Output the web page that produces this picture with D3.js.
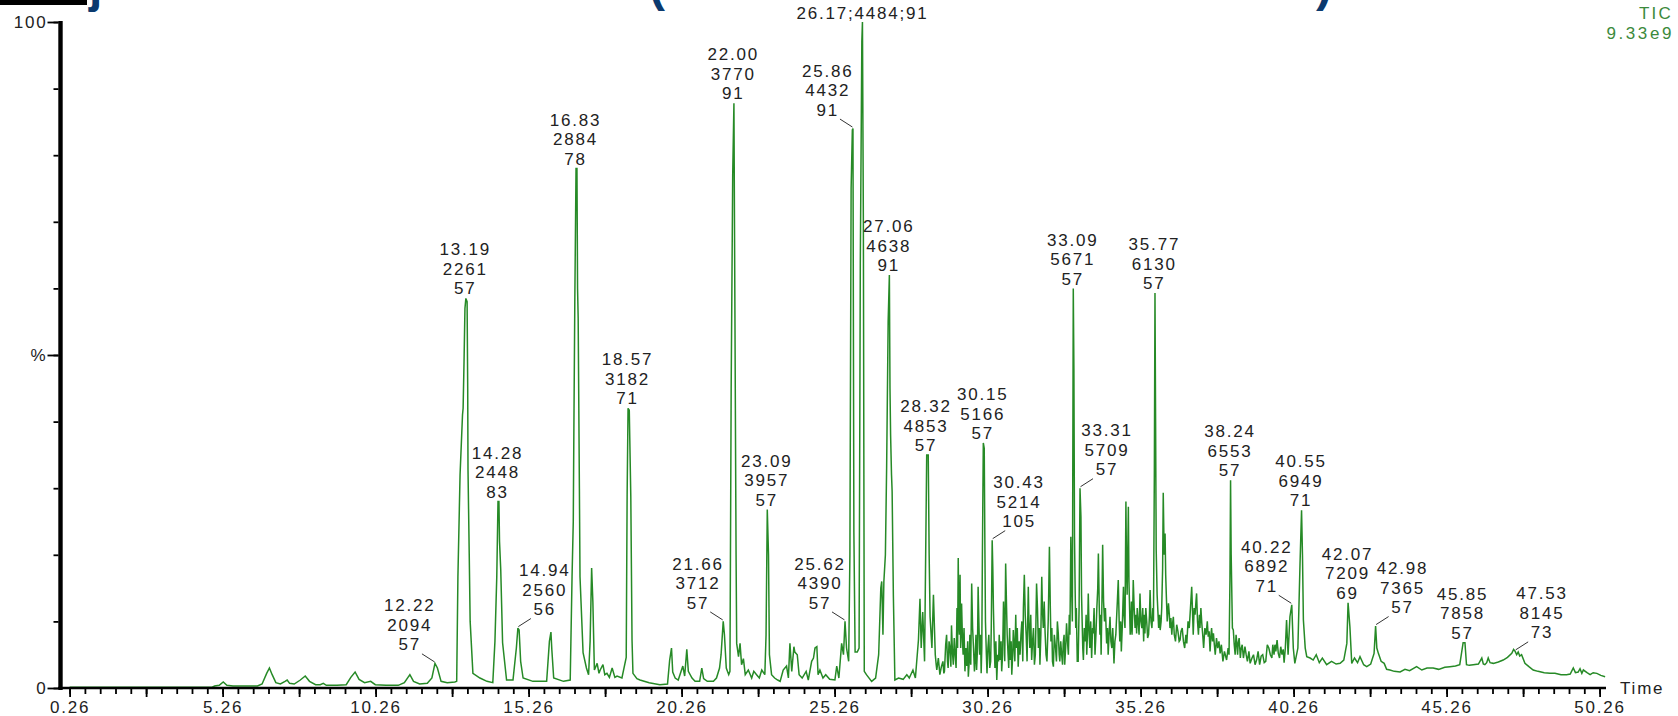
<!DOCTYPE html>
<html><head><meta charset="utf-8">
<script src="https://cdn.jsdelivr.net/npm/d3@7"></script>
<style>
html,body{margin:0;padding:0;background:#fff;}
svg{display:block;}
text{font-family:"Liberation Sans",Arial,sans-serif;}
</style></head><body>
<svg id="chart" width="1678" height="716"></svg>
<script>
// Total ion chromatogram: [retention time (min), relative abundance (%)]
const tic = [
[0.26,0.1],[4.90,0.1],[5.00,0.3],[5.15,0.4],[5.28,0.9],[5.40,0.4],[5.60,0.3],[6.40,0.3],[6.55,0.6],[6.70,2.2],
[6.79,3.0],[6.88,2.0],[7.00,0.8],[7.15,0.6],[7.30,1.0],[7.37,1.2],[7.45,0.7],[7.60,0.6],[7.80,1.2],[7.96,1.8],
[8.10,1.0],[8.30,0.5],[8.45,0.5],[8.55,0.7],[8.65,0.4],[9.00,0.4],[9.30,0.5],[9.45,1.6],[9.59,2.4],[9.72,1.3],
[9.90,0.8],[10.10,1.0],[10.25,0.5],[10.60,0.4],[11.00,0.4],[11.20,0.8],[11.38,2.0],[11.50,1.0],[11.70,0.6],[11.95,0.7],
[12.10,1.5],[12.20,3.7],[12.28,3.0],[12.40,1.0],[12.60,0.8],[12.85,0.9],[12.91,1.0],[12.95,16.7],[13.02,32],[13.10,41],
[13.12,42],[13.15,49],[13.18,57],[13.21,58.5],[13.25,58],[13.27,45],[13.28,32.7],[13.32,20],[13.35,10],[13.44,2.2],
[13.67,1.5],[13.90,1.0],[14.09,0.8],[14.16,7],[14.22,16.7],[14.26,28],[14.29,28],[14.31,22],[14.35,17.7],[14.41,6.8],
[14.54,1.2],[14.75,1.2],[14.86,6],[14.91,9],[14.95,8.7],[15.00,4],[15.08,1.5],[15.40,1.0],[15.85,1.0],[15.94,7],
[15.99,8.4],[16.02,5.7],[16.08,1.5],[16.40,1.0],[16.62,1.2],[16.68,16.7],[16.72,25],[16.74,39],[16.77,58],[16.81,78],
[16.84,78],[16.86,60],[16.88,55.5],[16.92,30],[16.94,16.7],[17.04,5.3],[17.15,3],[17.22,2.0],[17.27,7],[17.32,18],
[17.36,13],[17.41,2.7],[17.50,3.7],[17.56,2.2],[17.60,2.7],[17.69,3.5],[17.75,2.0],[17.82,2.2],[17.90,1.6],[17.99,3.0],
[18.08,1.6],[18.15,1.8],[18.31,1.5],[18.45,4.6],[18.48,29],[18.51,42],[18.55,41.7],[18.60,28.7],[18.64,7.2],[18.67,2.2],
[18.80,1.4],[18.90,1.2],[19.20,0.8],[19.55,0.5],[19.80,0.6],[19.87,4.2],[19.93,6],[19.97,2.4],[20.05,1.5],[20.15,1.2],
[20.30,3.3],[20.36,1.8],[20.43,5.8],[20.48,2.5],[20.60,1.5],[20.70,1.0],[20.85,1.0],[20.92,3.0],[20.98,1.4],[21.10,1.0],
[21.30,1.0],[21.40,1.5],[21.50,3.0],[21.55,5],[21.62,10],[21.66,8],[21.72,3],[21.80,2],[21.84,2.5],[21.88,45],
[21.93,77],[21.97,87.8],[22.00,58.7],[22.04,20],[22.06,6.7],[22.12,4.7],[22.17,6.7],[22.22,3.5],[22.28,4.4],[22.34,2.0],
[22.44,2.7],[22.55,1.5],[22.62,2.5],[22.71,2.0],[22.80,1.5],[22.88,2.7],[22.98,2.0],[23.02,8],[23.06,26.8],[23.10,20],
[23.13,5],[23.20,2.0],[23.30,1.5],[23.40,1.2],[23.48,1.0],[23.58,2.7],[23.69,3.3],[23.75,1.5],[23.80,6.7],[23.86,2.5],
[23.93,6.2],[23.96,5.4],[24.04,5.0],[24.10,2.0],[24.20,1.5],[24.33,2.5],[24.40,1.2],[24.51,4.0],[24.57,4.5],[24.62,6.0],
[24.68,6.2],[24.72,2.0],[24.78,2.7],[24.88,1.5],[24.97,2.0],[25.10,1.3],[25.27,1.2],[25.33,3.3],[25.40,1.5],[25.49,6.7],
[25.55,5],[25.60,10],[25.65,6],[25.72,4],[25.76,20],[25.80,75],[25.84,83.8],[25.86,84],[25.89,23.4],[25.93,5.4],
[26.00,5.4],[26.06,6],[26.10,63.7],[26.15,97],[26.17,100],[26.20,70],[26.23,2.5],[26.30,2.0],[26.47,1.0],[26.60,1.5],
[26.70,5],[26.77,15],[26.80,16],[26.84,8],[26.87,16],[26.92,20],[26.96,33],[27.01,55],[27.05,62],[27.07,45],
[27.09,38],[27.12,32],[27.14,29.5],[27.18,14],[27.23,1.2],[27.35,1.5],[27.50,1.3],[27.62,2.0],[27.70,1.5],[27.82,2.7],
[27.90,1.5],[28.00,7.2],[28.05,13.4],[28.09,6],[28.14,11.4],[28.20,4],[28.27,35],[28.32,35],[28.35,20],[28.38,10.7],
[28.44,6],[28.49,14],[28.55,5],[28.58,3.5],[28.60,2.7],[28.65,4.5],[28.70,2.0],[28.75,3.2],[28.80,4],[28.83,2.2],
[28.85,2.5],[28.89,6.5],[28.92,8],[28.95,4],[28.97,3],[29.00,7],[29.03,6],[29.06,3.2],[29.08,9.4],[29.11,5.5],
[29.14,3.5],[29.17,7.5],[29.20,5],[29.23,3],[29.26,12],[29.28,6],[29.30,19.5],[29.32,10],[29.34,8],[29.36,17],
[29.38,6],[29.41,12.7],[29.44,7],[29.46,5],[29.49,9],[29.52,2.5],[29.55,6],[29.58,3.3],[29.61,7],[29.63,1.7],
[29.66,4],[29.68,8],[29.71,3.5],[29.74,15.7],[29.77,9],[29.80,6],[29.83,2.5],[29.85,4],[29.88,8],[29.90,2.7],
[29.93,6],[29.95,15.2],[29.98,9],[30.00,5],[30.03,8],[30.05,2.2],[30.07,6],[30.09,20],[30.12,36.8],[30.15,36],
[30.17,22],[30.19,10],[30.22,5],[30.24,2.2],[30.27,6],[30.30,8],[30.33,3],[30.36,4],[30.38,9],[30.41,22.2],
[30.43,18],[30.45,12],[30.48,6],[30.50,3],[30.53,7],[30.56,1.2],[30.59,5],[30.62,4],[30.64,8],[30.67,4.2],
[30.70,7],[30.72,2.5],[30.75,5],[30.78,13],[30.80,10],[30.82,4],[30.85,18.7],[30.88,12],[30.90,8],[30.93,5],
[30.95,3],[30.98,9],[31.00,4.2],[31.03,7],[31.05,2.0],[31.08,5],[31.10,8.7],[31.13,6],[31.15,4],[31.18,11],
[31.20,6],[31.23,9],[31.26,3.2],[31.29,7],[31.32,5],[31.35,8],[31.38,10],[31.41,4],[31.43,12],[31.46,17],
[31.49,11],[31.52,8],[31.55,4],[31.59,15.2],[31.61,10],[31.64,6],[31.67,11],[31.70,4.2],[31.73,7],[31.76,9],
[31.79,3.5],[31.82,5],[31.84,10],[31.86,15.7],[31.89,12],[31.92,6],[31.95,9],[31.97,3.5],[32.00,8],[32.03,16.7],
[32.05,12],[32.08,9],[32.11,13],[32.14,8.2],[32.17,5],[32.20,4],[32.22,7],[32.24,10],[32.26,15],[32.28,21.2],
[32.31,12],[32.33,7],[32.36,9],[32.38,4],[32.41,3.2],[32.44,8],[32.48,6],[32.51,4],[32.54,10],[32.57,8.2],
[32.60,5],[32.62,4],[32.65,7],[32.68,5],[32.71,3.5],[32.73,6.7],[32.76,8],[32.78,3.5],[32.81,6],[32.84,9.7],
[32.87,7],[32.90,5],[32.93,11],[32.95,8],[32.98,22.7],[33.01,14],[33.03,10],[33.06,60],[33.08,48],[33.10,22.7],
[33.12,15],[33.14,9],[33.16,12],[33.19,4],[33.22,4],[33.25,12],[33.28,30],[33.31,25.7],[33.33,14],[33.35,10],
[33.37,6],[33.39,4.2],[33.42,9],[33.45,7],[33.48,11],[33.50,5],[33.53,9],[33.55,14.2],[33.58,8],[33.60,6],
[33.63,10],[33.66,4.5],[33.69,9],[33.71,8.2],[33.74,12],[33.77,5],[33.80,8],[33.83,12],[33.86,15],[33.88,20.2],
[33.91,12],[33.93,8],[33.95,11],[33.97,5],[34.00,14],[34.02,21.5],[34.05,13],[34.08,10],[34.11,12],[34.15,6.7],
[34.18,9],[34.20,5],[34.23,8],[34.26,10.7],[34.29,7],[34.32,6],[34.35,9],[34.39,3.7],[34.42,7],[34.45,8],
[34.48,11],[34.50,13],[34.53,16.2],[34.56,10],[34.58,7],[34.61,10],[34.63,5.5],[34.66,9],[34.70,15.2],[34.72,11],
[34.75,9],[34.78,28],[34.80,18],[34.82,14],[34.84,20],[34.86,27.2],[34.88,16],[34.90,12],[34.92,8],[34.94,9.2],
[34.96,13],[34.98,8],[35.00,11],[35.02,16.2],[35.05,12],[35.08,9],[35.11,11],[35.13,8.2],[35.15,12],[35.18,10],
[35.21,8],[35.24,14.2],[35.27,10],[35.30,9],[35.33,12],[35.36,7],[35.38,11],[35.40,8.2],[35.43,12],[35.46,10],
[35.49,7.5],[35.52,8],[35.55,11],[35.57,14.7],[35.60,10],[35.63,9],[35.66,12],[35.68,10],[35.71,32.7],[35.73,59.3],
[35.75,40],[35.77,20.7],[35.80,14],[35.82,12],[35.85,9],[35.88,11],[35.90,8.7],[35.93,10],[35.95,12],[35.98,18],
[36.00,29.3],[36.03,20],[36.06,23.2],[36.08,17],[36.10,14],[36.13,10],[36.17,12.7],[36.20,11],[36.22,9],[36.25,10.5],
[36.28,8],[36.30,9.5],[36.33,10.7],[36.36,8],[36.40,7],[36.44,9.5],[36.48,8.5],[36.52,7],[36.55,7.2],[36.58,8.5],
[36.62,9],[36.66,7],[36.70,6],[36.74,8],[36.77,6.7],[36.81,10],[36.85,9],[36.89,12],[36.93,15.2],[36.96,11],
[36.98,8],[37.01,12],[37.04,11],[37.07,13],[37.09,14.2],[37.12,10],[37.15,8],[37.18,11],[37.20,9],[37.23,12],
[37.26,9.7],[37.29,8],[37.32,6],[37.36,9],[37.40,8],[37.44,10],[37.47,7.7],[37.50,8.5],[37.53,5.5],[37.56,8],
[37.58,9],[37.61,7],[37.64,8.2],[37.67,6.5],[37.70,5],[37.74,7.5],[37.78,6],[37.82,7],[37.86,5.2],[37.90,6.5],
[37.95,4],[38.00,5.5],[38.07,4.2],[38.12,6],[38.15,5],[38.18,16.2],[38.20,31.2],[38.22,20],[38.26,9],[38.29,8.7],
[38.32,6.5],[38.35,5],[38.38,8],[38.40,7],[38.43,5],[38.45,6.7],[38.48,7.5],[38.52,4.5],[38.55,6],[38.58,6.5],
[38.62,4.5],[38.67,6.2],[38.71,5],[38.75,4],[38.80,5.5],[38.84,3.7],[38.90,4.5],[38.95,5],[39.00,3.5],[39.05,4.2],
[39.10,5.5],[39.15,3.5],[39.20,4.8],[39.25,5],[39.30,3.8],[39.35,4],[39.40,6.5],[39.45,6],[39.50,5],[39.55,4.5],
[39.58,6.5],[39.62,5],[39.65,6.5],[39.68,5.5],[39.72,7.2],[39.76,5.2],[39.80,4.5],[39.84,6.2],[39.88,5],[39.92,5.8],
[39.95,3.8],[39.99,6],[40.03,10.2],[40.08,5],[40.14,10.7],[40.20,12.5],[40.25,6],[40.30,3.7],[40.40,6],[40.47,18.7],
[40.52,26.7],[40.55,20],[40.58,10.2],[40.64,6],[40.69,4.7],[40.80,4.5],[40.90,4.2],[41.00,5],[41.10,3.8],[41.20,4.5],
[41.34,3.5],[41.50,4],[41.65,3.6],[41.78,3.7],[41.90,4.2],[42.00,6.7],[42.04,12.8],[42.10,9.2],[42.16,3.7],[42.25,4.5],
[42.35,3.8],[42.43,4.7],[42.55,3.5],[42.65,3.2],[42.78,3.6],[42.89,5.2],[42.94,9.3],[42.98,6],[43.03,5.2],[43.12,4],
[43.22,3.7],[43.30,2.8],[43.41,2.7],[43.55,2.5],[43.74,2.4],[43.90,2.8],[44.05,2.6],[44.28,3.2],[44.45,2.7],[44.62,3.0],
[44.82,3.0],[45.00,2.8],[45.20,3.1],[45.37,3.2],[45.55,3.3],[45.69,3.5],[45.80,6.8],[45.86,6.8],[45.91,3.5],[46.00,3.4],
[46.13,3.5],[46.30,3.6],[46.41,4.5],[46.46,3.6],[46.51,3.5],[46.57,3.8],[46.62,4.5],[46.68,3.8],[46.79,3.7],[46.95,3.9],
[47.11,4.2],[47.25,4.6],[47.39,5.2],[47.45,5.8],[47.50,5.5],[47.55,5.0],[47.60,5.4],[47.65,4.8],[47.71,5.0],[47.82,3.7],
[47.95,3.2],[48.09,2.7],[48.25,2.5],[48.45,2.3],[48.64,2.2],[48.80,2.2],[49.00,2.0],[49.18,2.0],[49.30,2.1],[49.40,3.0],
[49.47,2.3],[49.56,2.4],[49.62,2.9],[49.68,2.2],[49.73,2.7],[49.85,2.3],[49.95,2.0],[50.05,2.3],[50.17,2.2],[50.30,1.9],
[50.44,1.7]
];

// Peak annotations: retention time, scan number, base peak m/z
const peakRT   = [12.22,13.19,14.28,14.94,16.83,18.57,21.66,22.00,23.09,25.62,25.86,26.17,27.06,28.32,30.15,30.43,33.09,33.31,35.77,38.24,40.22,40.55,42.07,42.98,45.85,47.53];
const peakScan = [2094,2261,2448,2560,2884,3182,3712,3770,3957,4390,4432,4484,4638,4853,5166,5214,5671,5709,6130,6553,6892,6949,7209,7365,7858,8145];
const peakMz   = [57,57,83,56,78,71,57,91,57,57,91,91,91,57,57,105,57,57,57,57,71,71,69,57,57,73];

// X tick labels (min) and Y tick labels
const xTickLabels = ["0.26","5.26","10.26","15.26","20.26","25.26","30.26","35.26","40.26","45.26","50.26"];
const yTickValues = [0,50,100];
const yTickLabels = ["0","%","100"];
const traceName = "TIC";
const traceMax  = "9.33e9";

// ---- layout (not data) ----
// label placement per peak: 0 = above, -1 = left with leader, 1 = right with leader, 2 = single line
const labelSide = [-1,0,0,1,0,0,-1,0,0,-1,-1,2,0,0,0,1,0,1,0,0,-1,0,0,1,0,1];

const svg = d3.select("#chart");
const x = d3.scaleLinear().domain([0.26, 50.26]).range([69.6, 1599.6]);
const y = d3.scaleLinear().domain([0, 100]).range([688, 22]);

const ink = "#222";
const green = "#268a26";
const FS = 17, LS = 1.8;

// cut-off title fragments at the top edge
svg.append("rect").attr("x",0).attr("y",0).attr("width",87).attr("height",5).attr("fill","#000");
const titleG = svg.append("g").attr("fill","#0b3a6e").attr("font-weight","bold").attr("font-size",48);
titleG.append("text").attr("x",89).attr("y",1.5).text("j");
titleG.append("text").attr("x",649).attr("y",1).text("(");
titleG.append("text").attr("x",1316).attr("y",1).text(")");

// trace
const line = d3.line().x(d => x(d[0])).y(d => y(d[1]));
svg.append("path").datum(tic)
  .attr("d", line).attr("fill","none").attr("stroke",green)
  .attr("stroke-width",1.5).attr("stroke-linejoin","miter").attr("stroke-miterlimit",3);

// X axis
const minorX = d3.range(0, 101).map(i => 0.26 + i * 0.5);
const majorX = d3.range(0, 21).map(i => 0.26 + i * 2.5);
function styleAxis(g){
  g.select(".domain").remove();
  g.selectAll(".tick line").attr("stroke","#000").attr("stroke-width",1.8);
  g.selectAll("text").attr("font-size",FS).attr("fill",ink)
   .attr("font-family",'"Liberation Sans",Arial,sans-serif').style("letter-spacing",LS+"px");
}
svg.append("g").attr("transform","translate(0,689)")
  .call(d3.axisBottom(x).tickValues(minorX).tickSize(5).tickFormat("")).call(styleAxis);
svg.append("g").attr("transform","translate(0,689)")
  .call(d3.axisBottom(x).tickValues(majorX).tickSize(8).tickFormat("")).call(styleAxis);
svg.append("g").attr("transform","translate(0,689)")
  .call(d3.axisBottom(x).tickValues(xTickLabels.map(Number)).tickSize(0).tickPadding(12)
        .tickFormat((d,i) => xTickLabels[i])).call(styleAxis);

// Y axis
svg.append("g").attr("transform","translate(58.5,0)")
  .call(d3.axisLeft(y).tickValues(d3.range(0,101,10)).tickSize(5).tickFormat("")).call(styleAxis);
svg.append("g").attr("transform","translate(58.5,0)")
  .call(d3.axisLeft(y).tickValues(yTickValues).tickSize(11).tickPadding(0)
        .tickFormat((d,i) => yTickLabels[i])).call(styleAxis);

// axis lines
svg.append("line").attr("x1",58).attr("x2",1606).attr("y1",688).attr("y2",688)
  .attr("stroke","#000").attr("stroke-width",2.4);
svg.append("line").attr("x1",60.5).attr("x2",60.5).attr("y1",21).attr("y2",690)
  .attr("stroke","#000").attr("stroke-width",4.4);

svg.append("text").attr("x",1620).attr("y",694).attr("font-size",FS).attr("fill",ink)
  .style("letter-spacing",LS+"px").text("Time");

// legend (trace name and full-scale intensity)
svg.append("text").attr("x",1673).attr("y",18.5).attr("text-anchor","end").attr("font-size",FS)
  .attr("fill","#3b8a3b").style("letter-spacing","2.2px").text(traceName);
svg.append("text").attr("x",1674).attr("y",39).attr("text-anchor","end").attr("font-size",FS)
  .attr("fill","#3b8a3b").style("letter-spacing","2.6px").text(traceMax);

// peak labels
const lab = svg.append("g").attr("font-size",FS).attr("fill",ink).attr("text-anchor","middle")
  .style("letter-spacing",LS+"px");
const LH = 19.5, HALF = 6.1;
peakRT.forEach((rt, i) => {
  const near = tic.filter(d => Math.abs(d[0] - rt) <= 0.06);
  const top = near.reduce((a, b) => (b[1] > a[1] ? b : a), near[0]);
  const px = x(top[0]), py = y(top[1]);
  const s = labelSide[i];
  if (s === 2) {
    lab.append("text").attr("x", px).attr("y", py - 9.5 + HALF)
      .text(`${rt.toFixed(2)};${peakScan[i]};${peakMz[i]}`);
    return;
  }
  const cx = px + (s ? s * 26 : -1.5) + LS / 2;
  const bottom = py - (s ? 19 : 10);
  const lines = [rt.toFixed(2), String(peakScan[i]), String(peakMz[i])];
  lines.forEach((t, k) => {
    lab.append("text").attr("x", cx).attr("y", bottom - (2 - k) * LH + HALF).text(t);
  });
  if (s) {
    svg.append("line").attr("x1", px + s * 13).attr("y1", py - 9.5)
      .attr("x2", px + s * 0.5).attr("y2", py - 1.5)
      .attr("stroke", "#333").attr("stroke-width", 1);
  }
});
</script>
</body></html>
